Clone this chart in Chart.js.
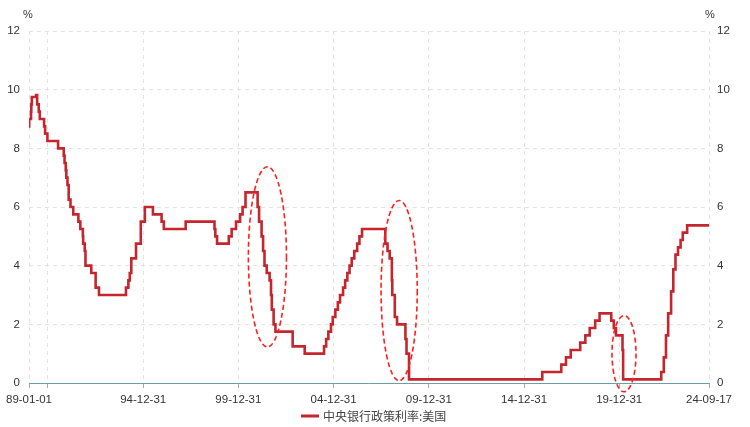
<!DOCTYPE html>
<html>
<head>
<meta charset="utf-8">
<script src="https://cdn.jsdelivr.net/npm/chart.js@4/dist/chart.umd.min.js"></script>
<style>
  html, body { margin: 0; padding: 0; background: #ffffff; }
  #wrap { width: 750px; height: 427px; position: relative; }
</style>
</head>
<body>
<div id="wrap"><canvas id="c" width="750" height="427"></canvas></div>
<script>
// ---- Data (policy-rate change dates and the new level, %) ----
const seriesName = "中央银行政策利率:美国";
const changeDates = [
  "1989-01-01","1989-01-05","1989-02-09","1989-02-14","1989-02-24","1989-05-17","1989-06-06","1989-07-07","1989-07-27",
  "1989-10-18","1989-11-06","1989-12-20","1990-07-13","1990-10-29","1990-11-14","1990-12-07","1990-12-18",
  "1991-01-09","1991-02-01","1991-03-08","1991-04-30","1991-08-06","1991-09-13","1991-10-31","1991-11-06",
  "1991-12-06","1991-12-20","1992-04-09","1992-07-02","1992-09-04","1994-02-04","1994-03-22","1994-04-18",
  "1994-05-17","1994-08-16","1994-11-15","1995-02-01","1995-07-06","1995-12-19","1996-01-31","1997-03-25",
  "1998-09-29","1998-10-15","1998-11-17","1999-06-30","1999-08-24","1999-11-16","2000-02-02","2000-03-21",
  "2000-05-16","2001-01-03","2001-01-31","2001-03-20","2001-04-18","2001-05-15","2001-06-27","2001-08-21",
  "2001-09-17","2001-10-02","2001-11-06","2001-12-11","2002-11-06","2003-06-25","2004-06-30","2004-08-10",
  "2004-09-21","2004-11-10","2004-12-14","2005-02-02","2005-03-22","2005-05-03","2005-06-30","2005-08-09",
  "2005-09-20","2005-11-01","2005-12-13","2006-01-31","2006-03-28","2006-05-10","2006-06-29","2007-09-18",
  "2007-10-31","2007-12-11","2008-01-22","2008-01-30","2008-03-18","2008-04-30","2008-10-08","2008-10-29",
  "2008-12-16","2015-12-16","2016-12-14","2017-03-15","2017-06-14","2017-12-13","2018-03-21","2018-06-13",
  "2018-09-26","2018-12-19","2019-07-31","2019-09-18","2019-10-30","2020-03-03","2020-03-15","2022-03-16",
  "2022-05-04","2022-06-15","2022-07-27","2022-09-21","2022-11-02","2022-12-14","2023-02-01","2023-03-22",
  "2023-05-03","2023-07-26","2024-09-17"
];
const rateValues = [
  8.75,9.0,9.25,9.5,9.75,9.8125,9.5,9.25,9.0,
  8.75,8.5,8.25,8.0,7.75,7.5,7.25,7.0,
  6.75,6.25,6.0,5.75,5.5,5.25,5.0,4.75,
  4.5,4.0,3.75,3.25,3.0,3.25,3.5,3.75,
  4.25,4.75,5.5,6.0,5.75,5.5,5.25,5.5,
  5.25,5.0,4.75,5.0,5.25,5.5,5.75,6.0,
  6.5,6.0,5.5,5.0,4.5,4.0,3.75,3.5,
  3.0,2.5,2.0,1.75,1.25,1.0,1.25,1.5,
  1.75,2.0,2.25,2.5,2.75,3.0,3.25,3.5,
  3.75,4.0,4.25,4.5,4.75,5.0,5.25,4.75,
  4.5,4.25,3.5,3.0,2.25,2.0,1.5,1.0,
  0.125,0.375,0.625,0.875,1.125,1.375,1.625,1.875,
  2.125,2.375,2.125,1.875,1.625,1.125,0.125,0.375,
  0.875,1.625,2.375,3.125,3.875,4.375,4.625,4.875,
  5.125,5.375,5.375
];
const xStart = "1989-01-01";
const xEnd = "2024-09-17";
const xTickDates = ["1989-01-01","1989-12-31","1994-12-31","1999-12-31","2004-12-31","2009-12-31","2014-12-31","2019-12-31","2024-09-17"];
const hiddenTickDates = ["1989-12-31"];
const yTicks = [0, 2, 4, 6, 8, 10, 12];
const yUnit = "%";
// highlighted episodes (center date, center value, half-width in years, half-height in %)
const highlightCenters = ["2001-07-10", "2008-06-10", "2020-04-01"];
const highlightValues = [4.3, 3.15, 1.0];
const highlightHalfYears = [1.0, 0.95, 0.63];
const highlightHalfValues = [3.07, 3.07, 1.3];

// ---- helpers ----
function toMs(s) { const p = s.split("-").map(Number); return Date.UTC(p[0], p[1]-1, p[2]); }
function fmt(ms) {
  const d = new Date(ms);
  const yy = String(d.getUTCFullYear() % 100).padStart(2, "0");
  const mm = String(d.getUTCMonth() + 1).padStart(2, "0");
  const dd = String(d.getUTCDate()).padStart(2, "0");
  return yy + "-" + mm + "-" + dd;
}
const YEAR_MS = 365.25 * 24 * 3600 * 1000;
const RED = "#c5262e";
const FONT = "'Liberation Sans', Arial, sans-serif";
const CJK_FONT = "'Noto Sans CJK SC', " + FONT;
const points = changeDates.map((d, i) => ({ x: toMs(d), y: rateValues[i] }));
const hiddenMs = hiddenTickDates.map(toMs);

const extrasPlugin = {
  id: "extras",
  afterDatasetsDraw(chart) {
    const ctx = chart.ctx;
    const xs = chart.scales.x, ys = chart.scales.yL;
    ctx.save();
    ctx.strokeStyle = "#ff1f1f";
    ctx.lineWidth = 1.6;
    ctx.setLineDash([5, 3]);
    highlightCenters.forEach((c, i) => {
      const cm = toMs(c);
      const cx = xs.getPixelForValue(cm);
      const cy = ys.getPixelForValue(highlightValues[i]);
      const rx = Math.abs(xs.getPixelForValue(cm + highlightHalfYears[i] * YEAR_MS) - cx);
      const ry = Math.abs(ys.getPixelForValue(highlightValues[i] + highlightHalfValues[i]) - cy);
      ctx.beginPath();
      ctx.ellipse(cx, cy, rx, ry, 0, 0, Math.PI * 2);
      ctx.stroke();
    });
    ctx.restore();
  },
  afterDraw(chart) {
    const ctx = chart.ctx;
    const a = chart.chartArea;
    ctx.save();
    // unit labels
    ctx.fillStyle = "#333";
    ctx.font = "11px " + FONT;
    ctx.textAlign = "center";
    ctx.textBaseline = "middle";
    ctx.fillText(yUnit, a.left - 1, 15);
    ctx.fillText(yUnit, a.right + 1, 15);
    // legend (bottom, centered)
    const ds = chart.data.datasets[0];
    ctx.font = "12px " + CJK_FONT;
    const tw = ctx.measureText(ds.label).width;
    const sw = 18, gap = 4;
    const total = sw + gap + tw;
    const x0 = Math.round((chart.width - total) / 2) - 1;
    const ly = 416;
    ctx.fillStyle = ds.borderColor;
    ctx.fillRect(x0, ly - 1.5, sw, 3);
    ctx.fillStyle = "#444";
    ctx.textAlign = "left";
    ctx.fillText(ds.label, x0 + sw + gap, ly);
    ctx.restore();
  }
};

new Chart(document.getElementById("c"), {
  type: "line",
  data: {
    datasets: [{
      label: seriesName,
      data: points,
      yAxisID: "yL",
      borderColor: RED,
      backgroundColor: RED,
      borderWidth: 2.6,
      pointRadius: 0,
      stepped: "before",
      fill: false
    }]
  },
  options: {
    responsive: false,
    animation: false,
    devicePixelRatio: 1,
    layout: { padding: { top: 31, left: 0, right: 0, bottom: 22 } },
    plugins: {
      legend: { display: false },
      tooltip: { enabled: false }
    },
    scales: {
      x: {
        type: "linear",
        min: toMs(xStart),
        max: toMs(xEnd),
        afterBuildTicks(scale) { scale.ticks = xTickDates.map(d => ({ value: toMs(d) })); },
        afterFit(scale) { scale.height = 22; },
        ticks: {
          autoSkip: false,
          maxRotation: 0,
          padding: 5,
          color: "#333",
          font: { family: FONT, size: 11.5 },
          callback(v) { return hiddenMs.includes(v) ? "" : fmt(v); }
        },
        grid: { color: "#e2e2e2", lineWidth: 1, tickColor: "#aaa", tickLength: 5, drawTicks: true },
        border: { display: true, color: "#6b9ea6", width: 1, dash: [4, 4] }
      },
      yL: {
        position: "left",
        min: 0, max: 12,
        afterBuildTicks(scale) { scale.ticks = yTicks.map(v => ({ value: v })); },
        afterFit(scale) { scale.width = 29; },
        ticks: { color: "#333", padding: 9, font: { family: FONT, size: 11.5 } },
        grid: { color: "#e2e2e2", lineWidth: 1, drawTicks: false },
        border: { display: false, dash: [4, 4] }
      },
      yR: {
        position: "right",
        min: 0, max: 12,
        afterBuildTicks(scale) { scale.ticks = yTicks.map(v => ({ value: v })); },
        afterFit(scale) { scale.width = 41; },
        ticks: { color: "#333", padding: 8, font: { family: FONT, size: 11.5 } },
        grid: { display: false, drawTicks: false },
        border: { display: false }
      }
    }
  },
  plugins: [extrasPlugin]
});
</script>
</body>
</html>
